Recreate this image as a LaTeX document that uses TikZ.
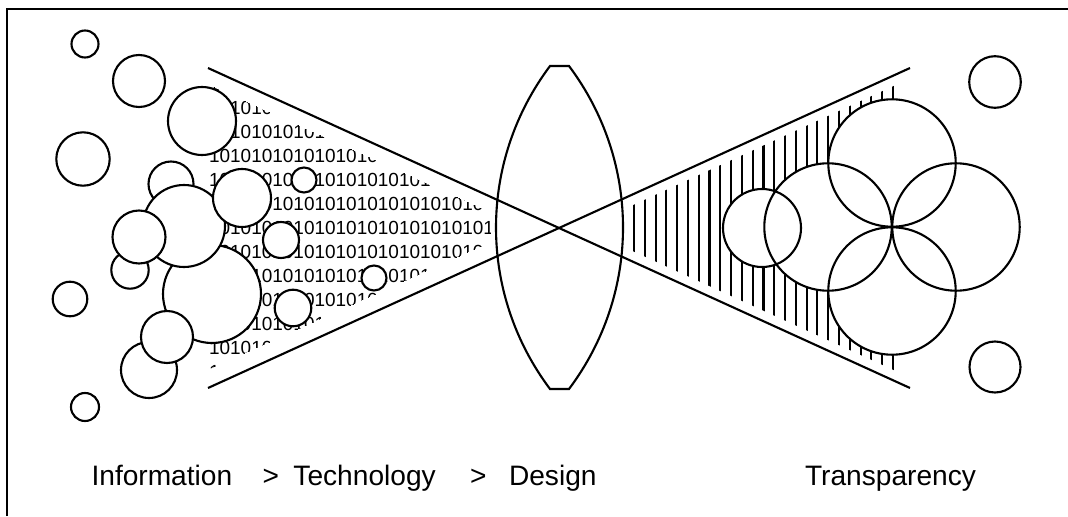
\documentclass[tikz,border=0pt]{standalone}
\usepackage{fontspec}
\setmainfont{Liberation Sans}
\begin{document}
\begin{tikzpicture}[x=0.25mm, y=-0.25mm, line width=1.5pt,
    bubble/.style={draw, fill=white},
    caption/.style={anchor=base west, inner sep=0pt, font=\fontsize{20}{24}\selectfont},
    bits/.style={anchor=base west, inner sep=0pt, font=\fontsize{13.5}{16}\selectfont}]
    \useasboundingbox (0,0) rectangle (1068,516);
    \draw[line width=1.1pt] (7,516) -- (7,9) -- (1068,9);
    % binary stream inside the left cone
    \begin{scope}
        \clip (205,83) -- (490,212) -- (490,242) -- (205,371) -- cycle;
        \foreach \k in {0,...,12}
            \node (bits\k) [bits] at (208,90+24*\k) {101010101010101010101010101};
    \end{scope}
    \foreach \cx/\cy/\r in {85/44/13.5, 139/81/26, 83/159/26.7, 70/299/17.3, 85/407/14,
        171/184/22.5, 212/294/49, 184/226/41, 242/198/29, 130/270/18.7, 139/237/26.5,
        149/370/28, 167/337/26, 202/121/34, 304/180/12.5, 281/240/18, 374/278/12.5, 293/308/18.3}
        \draw[bubble] (\cx,\cy) circle (\r);
    % lens
    \draw (550,66) -- (569,66) .. controls (641,162) and (641,293) .. (569,389)
        -- (550,389) .. controls (478,293) and (478,162) .. (550,66) -- cycle;
    \coordinate (topleft) at (208,68);
    \coordinate (botleft) at (208,388);
    \coordinate (topright) at (910,68);
    \coordinate (botright) at (910,388);
    \draw (topleft) -- (botright);
    \draw (botleft) -- (topright);
    % hatching inside the right cone
    \begin{scope}
        \clip (600,220.2) -- (910,78.5) -- (910,377.5) -- (600,236.2) -- cycle;
        \foreach \i in {0,...,24}
            \draw ({634+10.79*\i},60) -- ({634+10.79*\i},400);
    \end{scope}
    \foreach \cx/\cy/\r in {762/228/39, 892/163/63.7, 892/291/63.7, 828/227/63.7, 956/227/63.7}
        \fill[white] (\cx,\cy) circle (\r);
    \foreach \cx/\cy/\r in {762/228/39, 892/163/63.7, 892/291/63.7, 828/227/63.7, 956/227/63.7,
        995/82/25.8, 995/367/25.5}
        \draw (\cx,\cy) circle (\r);
    \node (info) [caption] at (90.5,485) {Information};
    \node (gt1) [caption] at (261.5,485) {>};
    \node (tech) [caption] at (292.4,485) {Technology};
    \node (gt2) [caption] at (469,485) {>};
    \node (design) [caption] at (508,485) {Design};
    \node (transp) [caption] at (804,485) {Transparency};
\end{tikzpicture}
\end{document}
